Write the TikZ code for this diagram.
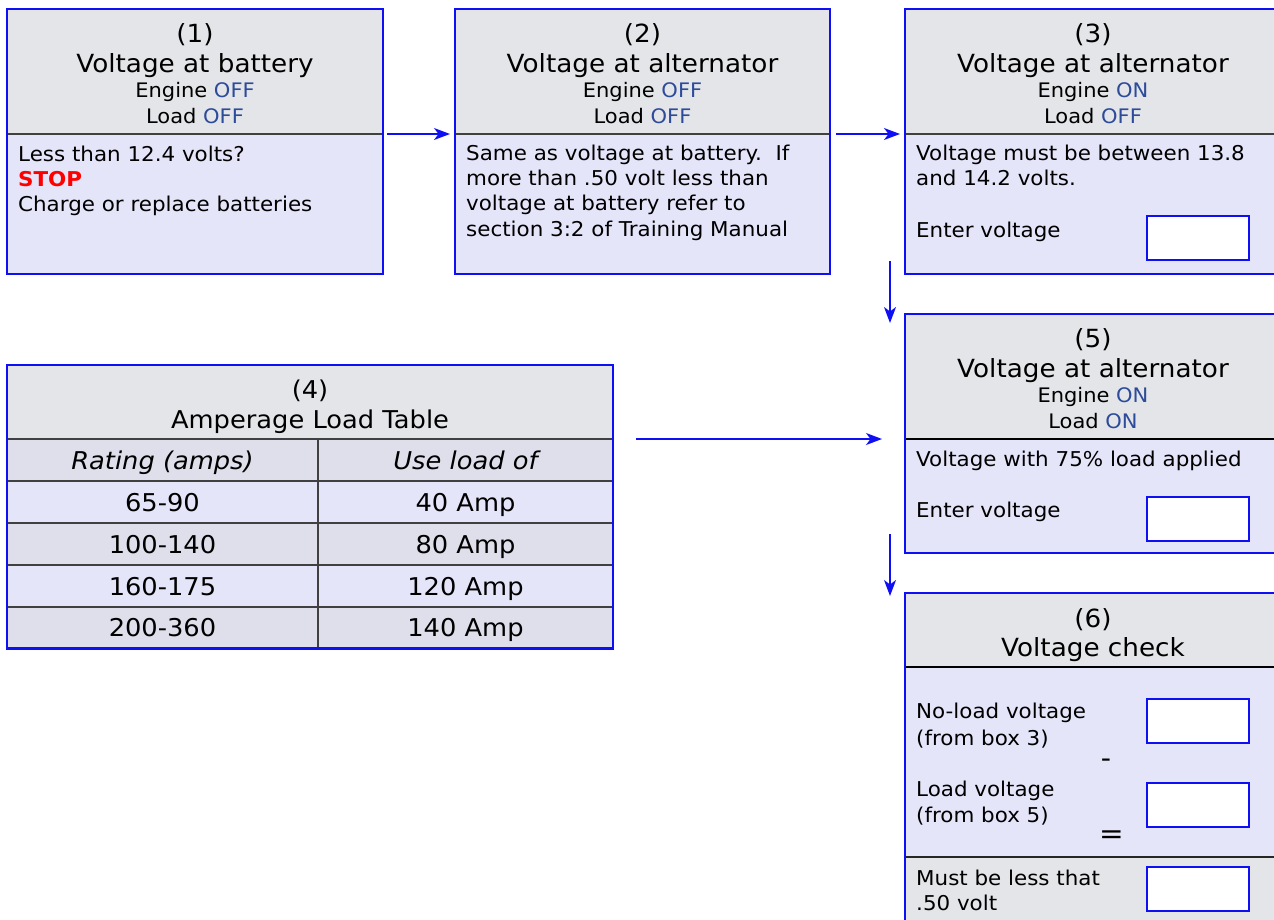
\documentclass[tikz,border=0pt]{standalone}
\usepackage{fontspec}
\setmainfont{DejaVu Sans}[FakeStretch=1.05]
\usetikzlibrary{arrows.meta}
\definecolor{hdrgrey}{RGB}{228,229,232}
\definecolor{bodylav}{RGB}{229,229,250}
\definecolor{rowgrey}{RGB}{222,223,234}
\definecolor{bblue}{RGB}{15,15,245}
\definecolor{stateblue}{RGB}{45,75,155}
\definecolor{sepgrey}{RGB}{64,64,64}
\begin{document}
\begin{tikzpicture}[x=1pt,y=-1pt,
  hdr/.style={fill=hdrgrey, draw=none, inner sep=0, outer sep=0, anchor=north west},
  bodyarea/.style={fill=bodylav, draw=none, inner sep=0, outer sep=0, anchor=north west},
  frame/.style={draw=bblue, line width=2.9pt},
  sep/.style={draw=sepgrey, line width=1.8pt},
  thicksep/.style={draw=black!85, line width=2.8pt},
  ttl/.style={font=\fontsize{25}{29}\selectfont, anchor=base, inner sep=0},
  sub/.style={font=\fontsize{20}{24}\selectfont, anchor=base, inner sep=0},
  txt/.style={font=\fontsize{20.4}{24}\selectfont, anchor=base west, inner sep=0},
  inbox/.style={draw=bblue, fill=white, line width=1.7pt, inner sep=0, anchor=north west, minimum width=102pt, minimum height=44pt},
  arr/.style={draw=bblue, line width=1.4pt, -{Stealth[length=16pt,width=12pt,inset=4.5pt]}},
  tab/.style={font=\fontsize{24.5}{28}\selectfont, anchor=base, inner sep=0},
  cell/.style={draw=sepgrey, line width=1.5pt, inner sep=0, outer sep=0, anchor=north west, minimum height=41.8pt},
]
\useasboundingbox (0,0) rectangle (1274,919);
\clip (0,0) rectangle (1274,919);

% ---------- Box 1 ----------
\node[hdr, minimum width=376pt, minimum height=125pt] (h1) at (7,9) {};
\node[bodyarea, minimum width=376pt, minimum height=140pt] (d1) at (7,134) {};
\draw[sep] (h1.south west) -- (h1.south east);
\draw[frame] (h1.north west) rectangle (d1.south east);
\node[ttl] (n1) at (195,42) {(1)};
\node[ttl] (t1) at (195,72) {Voltage at battery};
\node[sub] (e1) at (195,97) {Engine \textcolor{stateblue}{OFF}};
\node[sub] (l1) at (195,123) {Load \textcolor{stateblue}{OFF}};
\node[txt] (b1a) at (18,161) {Less than 12.4 volts?};
\node[txt, text=red, font=\fontsize{20.4}{24}\selectfont\bfseries] (b1b) at (18,186) {STOP};
\node[txt] (b1c) at (18,211) {Charge or replace batteries};

% ---------- Box 2 ----------
\node[hdr, minimum width=375pt, minimum height=125pt] (h2) at (455,9) {};
\node[bodyarea, minimum width=375pt, minimum height=140pt] (d2) at (455,134) {};
\draw[sep] (h2.south west) -- (h2.south east);
\draw[frame] (h2.north west) rectangle (d2.south east);
\node[ttl] (n2) at (642.5,42) {(2)};
\node[ttl] (t2) at (642.5,72) {Voltage at alternator};
\node[sub] (e2) at (642.5,97) {Engine \textcolor{stateblue}{OFF}};
\node[sub] (l2) at (642.5,123) {Load \textcolor{stateblue}{OFF}};
\node[txt] (b2a) at (466,160) {Same as voltage at battery.\ \ If};
\node[txt] (b2b) at (466,185) {more than .50 volt less than};
\node[txt] (b2c) at (466,210) {voltage at battery refer to};
\node[txt] (b2d) at (466,236) {section 3:2 of Training Manual};

% ---------- Box 3 ----------
\node[hdr, minimum width=376pt, minimum height=125pt] (h3) at (905,9) {};
\node[bodyarea, minimum width=376pt, minimum height=140pt] (d3) at (905,134) {};
\draw[sep] (h3.south west) -- (h3.south east);
\draw[frame] (h3.north west) rectangle (d3.south east);
\node[ttl] (n3) at (1093,42) {(3)};
\node[ttl] (t3) at (1093,72) {Voltage at alternator};
\node[sub] (e3) at (1093,97) {Engine \textcolor{stateblue}{ON}};
\node[sub] (l3) at (1093,123) {Load \textcolor{stateblue}{OFF}};
\node[txt] (b3a) at (916,160) {Voltage must be between 13.8};
\node[txt] (b3b) at (916,185) {and 14.2 volts.};
\node[txt] (b3c) at (916,237) {Enter voltage};
\node[inbox] (i3) at (1146,215) {};

% ---------- Box 5 ----------
\node[hdr, minimum width=376pt, minimum height=125pt] (h5) at (905,314) {};
\node[bodyarea, minimum width=376pt, minimum height=114pt] (d5) at (905,439) {};
\draw[sep, draw=black] (h5.south west) -- (h5.south east);
\draw[frame] (h5.north west) rectangle (d5.south east);
\node[ttl] (n5) at (1093,347) {(5)};
\node[ttl] (t5) at (1093,377) {Voltage at alternator};
\node[sub] (e5) at (1093,402) {Engine \textcolor{stateblue}{ON}};
\node[sub] (l5) at (1093,428) {Load \textcolor{stateblue}{ON}};
\node[txt] (b5a) at (916,466) {Voltage with 75\% load applied};
\node[txt] (b5b) at (916,517) {Enter voltage};
\node[inbox] (i5) at (1146,496) {};

% ---------- Box 6 ----------
\node[hdr, minimum width=376pt, minimum height=74pt] (h6) at (905,593) {};
\node[bodyarea, minimum width=376pt, minimum height=190pt] (d6) at (905,667) {};
\node[hdr, minimum width=376pt, minimum height=100pt] (f6) at (905,857) {};
\draw[sep, draw=black] (h6.south west) -- (h6.south east);
\draw[thicksep] (f6.north west) -- (f6.north east);
\draw[frame] (h6.north west) rectangle (f6.south east);
\node[ttl] (n6) at (1093,627) {(6)};
\node[ttl] (t6) at (1093,656) {Voltage check};
\node[txt] (b6a) at (916,718) {No-load voltage};
\node[txt] (b6b) at (916,745) {(from box 3)};
\node[txt] (b6c) at (916,796) {Load voltage};
\node[txt] (b6d) at (916,822) {(from box 5)};
\node[font=\fontsize{27}{30}\selectfont, inner sep=0] (minus) at (1106,763) {-};
\node[font=\fontsize{28}{30}\selectfont, inner sep=0] (eq) at (1111.5,837.5) {=};
\node[txt] (b6e) at (916,885) {Must be less that};
\node[txt] (b6f) at (916,910) {.50 volt};
\node[inbox] (i6a) at (1146,698) {};
\node[inbox] (i6b) at (1146,782) {};
\node[inbox] (i6c) at (1146,866) {};

% ---------- Table 4 ----------
\node[hdr, minimum width=606pt, minimum height=74pt] (t4h) at (7,365) {};
\foreach \i/\y/\c/\a/\b in {0/439/rowgrey/{\itshape Rating (amps)}/{\itshape Use load of},
                            1/481/bodylav/65-90/40 Amp,
                            2/523/rowgrey/100-140/80 Amp,
                            3/565/bodylav/160-175/120 Amp,
                            4/606.8/rowgrey/200-360/140 Amp}{
  \node[cell, fill=\c, minimum width=311pt] (ra\i) at (7,\y) {};
  \node[cell, fill=\c, minimum width=295pt] (rb\i) at (318,\y) {};
  \node[tab] (ta\i) at (162.5,{\y+30}) {\a};
  \node[tab] (tb\i) at (465.5,{\y+30}) {\b};
}
\node[tab] (n4) at (310,398) {(4)};
\node[tab] (t4) at (310,428) {Amperage Load Table};
\draw[frame] (t4h.north west) rectangle (rb4.south east);

% ---------- Connectors ----------
\draw[arr] ([xshift=4pt]h1.south east) -- ([xshift=-5pt]h2.south west);
\draw[arr] ([xshift=6pt]h2.south east) -- ([xshift=-5pt]h3.south west);
\draw[arr] ([xshift=-15pt,yshift=13pt]d3.south west) -- ([xshift=-15pt,yshift=-9pt]h5.north west);
\draw[arr] ([xshift=23pt]t4h.south east) -- ([xshift=-23pt]h5.south west);
\draw[arr] ([xshift=-15pt,yshift=19pt]d5.south west) -- ([xshift=-15pt,yshift=-3pt]h6.north west);
\end{tikzpicture}
\end{document}
